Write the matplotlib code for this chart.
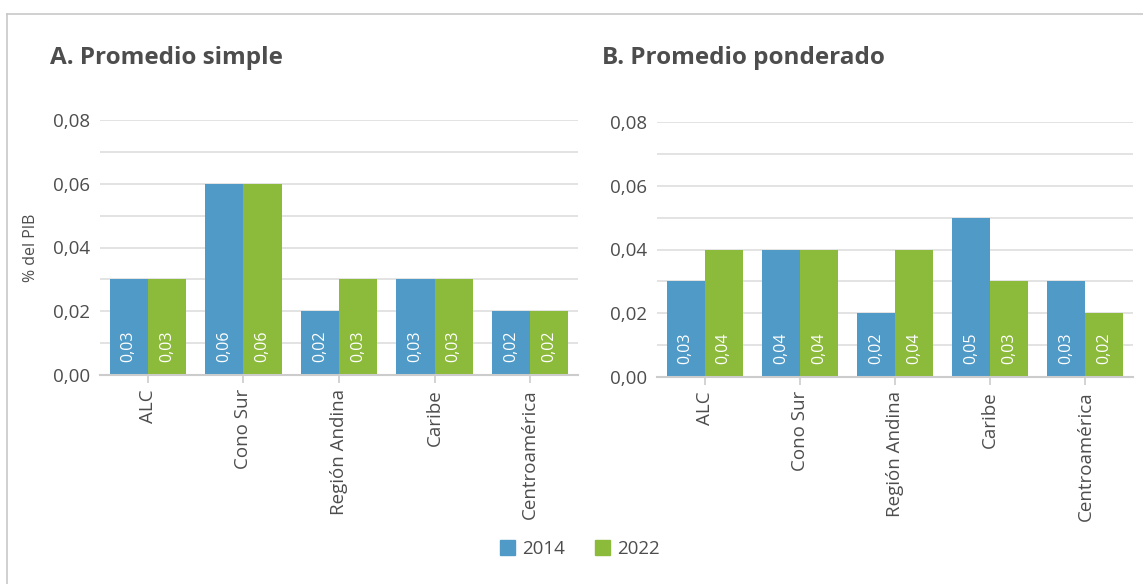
import matplotlib
matplotlib.use('Agg')
import matplotlib.pyplot as plt
from matplotlib.lines import Line2D
from matplotlib.patches import Patch
import numpy as np

# data
categories = ['ALC', 'Cono Sur', 'Región Andina', 'Caribe', 'Centroamérica']
simple_2014 = [0.03, 0.06, 0.02, 0.03, 0.02]
simple_2022 = [0.03, 0.06, 0.03, 0.03, 0.02]
pond_2014 = [0.03, 0.04, 0.02, 0.05, 0.03]
pond_2022 = [0.04, 0.04, 0.04, 0.03, 0.02]
years = ['2014', '2022']

BLUE = '#4f9ac7'
GREEN = '#8cba3a'
TXT = '#4d4d4d'
plt.rcParams['font.family'] = ['Open Sans', 'DejaVu Sans']

fig = plt.figure(figsize=(11.43, 5.84), dpi=100, facecolor='white')

# outer frame (left and top edges)
fig.add_artist(Line2D([7 / 1143, 7 / 1143], [0, 1 - 14 / 584], transform=fig.transFigure,
                      color='#c8c8c8', lw=1.2))
fig.add_artist(Line2D([7 / 1143, 1], [1 - 14 / 584, 1 - 14 / 584], transform=fig.transFigure,
                      color='#c8c8c8', lw=1.2))


def comma(v):
    return f'{v:.2f}'.replace('.', ',')


def draw_panel(rect, title, title_x, s1, s2, ylabel=None):
    ax = fig.add_axes(rect)
    x = np.arange(len(categories))
    w = 0.4
    b1 = ax.bar(x - w / 2, s1, w, color=BLUE, zorder=3)
    b2 = ax.bar(x + w / 2, s2, w, color=GREEN, zorder=3)
    for bars in (b1, b2):
        for rect_ in bars:
            h = rect_.get_height()
            ax.annotate(comma(h), (rect_.get_x() + rect_.get_width() / 2, 0),
                        xytext=(0, 9), textcoords='offset points',
                        rotation=90, ha='center', va='bottom', color='white', fontsize=11.5)
    ax.set_xlim(-0.5, len(categories) - 0.5)
    ax.set_ylim(0, 0.08)
    ax.set_yticks([0, 0.02, 0.04, 0.06, 0.08])
    ax.set_yticklabels([comma(v) for v in [0, 0.02, 0.04, 0.06, 0.08]])
    ax.set_yticks([0.01, 0.03, 0.05, 0.07], minor=True)
    ax.grid(axis='y', which='both', color='#dedede', lw=1.2, zorder=0)
    ax.set_xticks(x)
    ax.set_xticklabels(categories, rotation=90, fontsize=13.5, color=TXT)
    ax.tick_params(axis='x', length=6, color='#cccccc', width=1.2, pad=4)
    ax.tick_params(axis='y', which='both', length=0, labelsize=13.5, labelcolor=TXT, pad=7)
    for s in ['top', 'right', 'left']:
        ax.spines[s].set_visible(False)
    ax.spines['bottom'].set_color('#cccccc')
    ax.spines['bottom'].set_linewidth(1.5)
    ax.spines['bottom'].set_zorder(4)
    if ylabel:
        ax.set_ylabel(ylabel, fontsize=11.5, color=TXT, labelpad=10)
    fig.text(title_x / 1143, 1 - 58 / 584, title, fontsize=17.5, fontweight='bold',
             color=TXT, va='center', ha='left')
    return ax


draw_panel([100 / 1143, 1 - 375 / 584, 478 / 1143, 255 / 584], 'A. Promedio simple', 50,
           simple_2014, simple_2022, ylabel='% del PIB')
draw_panel([657 / 1143, 1 - 377 / 584, 476 / 1143, 255 / 584], 'B. Promedio ponderado', 602,
           pond_2014, pond_2022)

handles = [Patch(color=BLUE, label=years[0]), Patch(color=GREEN, label=years[1])]
fig.legend(handles=handles, loc='center', bbox_to_anchor=(580 / 1143, 1 - 549 / 584), ncol=2,
           frameon=False, fontsize=13.5, handlelength=0.8, handleheight=0.8,
           handletextpad=0.4, columnspacing=1.6, labelcolor=TXT)

fig.savefig('out.png', dpi=100, facecolor='white')
